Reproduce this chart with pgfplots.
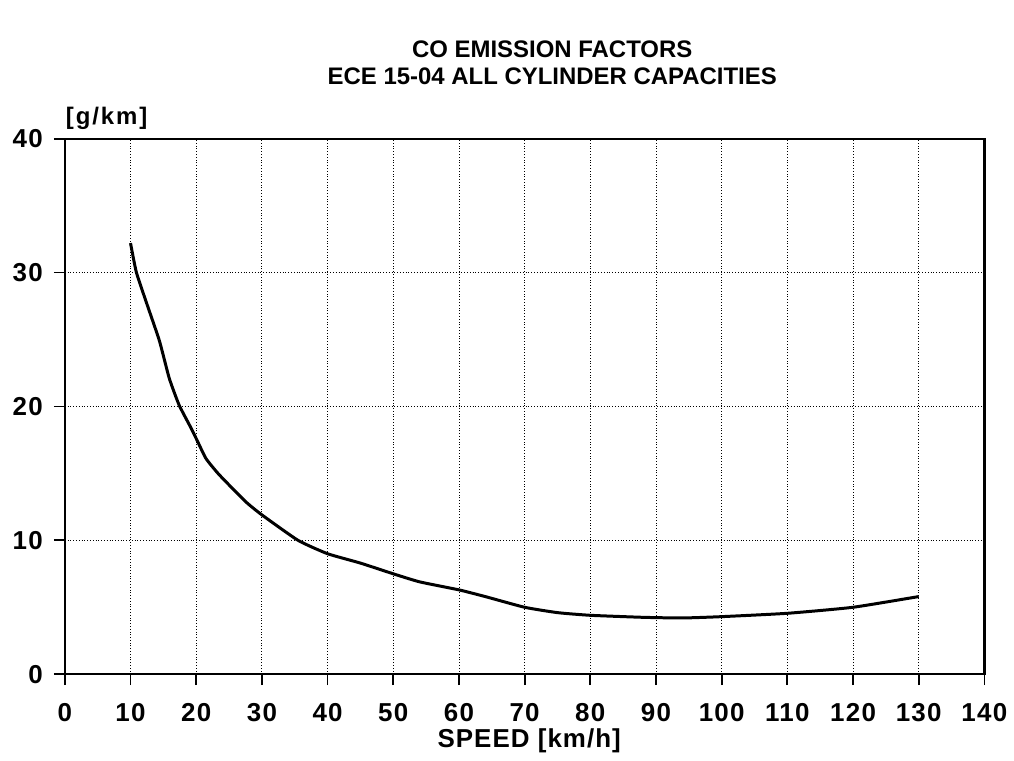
\documentclass[border=0pt]{standalone}
\usepackage{pgfplots}
\pgfplotsset{compat=1.18}
\usepackage{fontspec}
\setmainfont{Liberation Sans}
\newfontfamily\labelfont[LetterSpace=4]{Liberation Sans}
\newfontfamily\unitfont[LetterSpace=8]{Liberation Sans}
\newfontfamily\tickfont[LetterSpace=5]{Liberation Sans}
\begin{document}
\begin{tikzpicture}
\begin{axis}[
    scale only axis,
    width=461pt,
    height=268.5pt,
    xmin=0, xmax=140,
    ymin=0, ymax=40,
    xtick={0,10,...,140},
    ytick={0,10,...,40},
    tick align=outside,
    xtick pos=left,
    ytick pos=left,
    major tick length=5.5pt,
    tick style={black, line width=0.9pt},
    axis line style={line width=1.1pt},
    grid=major,
    major grid style={black, densely dotted, line width=0.4pt},
    /pgf/number format/assume math mode=true,
    ticklabel style={font=\tickfont\fontsize{13}{15}\selectfont\bfseries},
    xticklabel style={yshift=-5.5pt},
    yticklabel style={xshift=-2pt},
    xlabel={SPEED [km/h]},
    xlabel style={font=\labelfont\fontsize{13}{15}\selectfont\bfseries,
        at={(axis description cs:0.505,0)}, anchor=center, yshift=-33.5pt},
    clip=false,
]
\addplot[black, line width=1.5pt, smooth, tension=0.3] coordinates {
    (10,32.2) (10.9,30) (12.6,27.5) (14.4,24.9) (15.9,22.1) (17.4,20.1)
    (19.2,18.4) (20.2,17.4) (21.5,16.1) (23.5,14.9) (27.5,12.9) (30,11.9)
    (35.5,10.0) (40,9.0) (45,8.3) (50,7.5) (54,6.9) (60,6.3) (64,5.8)
    (70,5.0) (75,4.6) (80,4.4) (88,4.25) (94,4.2) (100,4.3) (110,4.55)
    (120,5.0) (130,5.8)
};
\node[font=\fontsize{12}{14}\selectfont\bfseries]
    at ([yshift=45pt]rel axis cs:0.53,1) {CO EMISSION FACTORS};
\node[font=\fontsize{12}{14}\selectfont\bfseries]
    at ([yshift=31.5pt]rel axis cs:0.53,1) {ECE 15-04 ALL CYLINDER CAPACITIES};
\node[font=\unitfont\fontsize{12}{14}\selectfont\bfseries]
    at ([yshift=10pt]rel axis cs:0.0455,1) {[g/km]};
\end{axis}
\path (-32.5pt,-43.5pt) rectangle (474.5pt,338pt);
\end{tikzpicture}
\end{document}
